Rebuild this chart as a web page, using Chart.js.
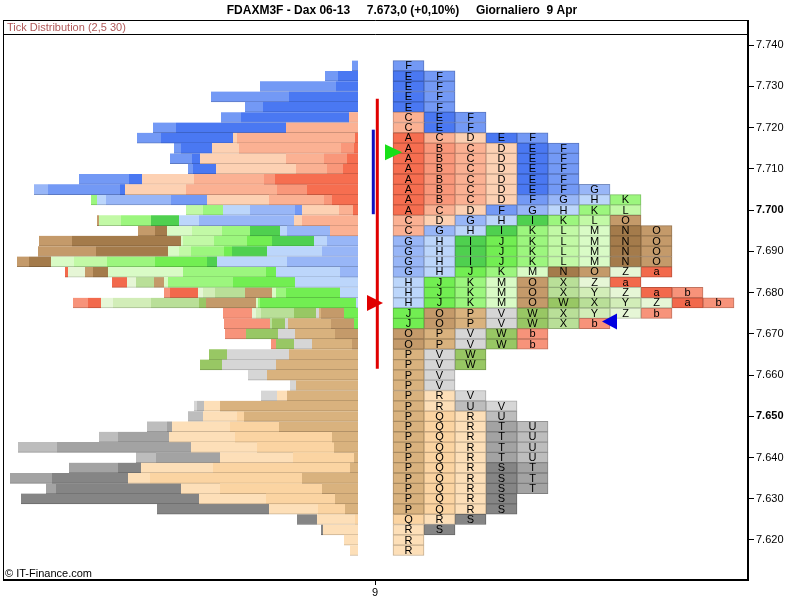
<!DOCTYPE html>
<html><head><meta charset="utf-8">
<script src="https://cdn.jsdelivr.net/npm/chart.js@4.4.1/dist/chart.umd.min.js"></script>
<style>html,body{margin:0;padding:0;background:#fff}</style>
</head><body>
<canvas id="c" width="800" height="600"></canvas>
<script>
// ---- data ----
const prices = [7735, 7732.5, 7730, 7727.5, 7725, 7722.5, 7720, 7717.5, 7715, 7712.5, 7710, 7707.5,
  7705, 7702.5, 7700, 7697.5, 7695, 7692.5, 7690, 7687.5, 7685, 7682.5, 7680, 7677.5,
  7675, 7672.5, 7670, 7667.5, 7665, 7662.5, 7660, 7657.5, 7655, 7652.5, 7650, 7647.5,
  7645, 7642.5, 7640, 7637.5, 7635, 7632.5, 7630, 7627.5, 7625, 7622.5, 7620, 7617.5];

const tpoRows = ['F','EF','EF','EF','EF','CEF','CEF','ACDEF','ABCDEF','ABCDEF','ABCDEF','ABCDEF',
  'ABCDEFG','ABCDFGHK','ACDFGHKL','CDGHIKLO','CGHIKLMNO','GHIJKLMNO','GHIJKLMNO','GHIJKLMNO',
  'GHJKMNOZa','HJKMOXZa','HJKMOXYZab','HJKMOWXYZab','JOPVWXYZb','JOPVWXb','OPVWb','OPVWb',
  'PVW','PVW','PV','PV','PRV','PRUV','PQRU','PQRTU','PQRTU','PQRTU','PQRTU',
  'PQRST','PQRST','PQRST','PQRS','PQRS','QRS','RS','R','R'];

const volRows = [[6],[20,13],[22,76],[69,78],[95,18],[9,108,20],[72,110,23],[3,118,4,72,24],
  [4,13,102,27,31,7],[11,23,38,86,8,22],[15,16,31,80,23,5],[83,11,70,52,13,50],
  [51,30,91,61,5,72,14],[26,8,55,62,36,65,9,6],[5,14,37,7,45,27,20,17],[56,8,95,20,28,30,22,2],
  [28,43,7,30,28,30,25,12,17],[31,13,42,25,33,31,2,109,33],[36,55,35,8,33,12,11,72,58],
  [71,70,10,52,48,33,23,22,12],[18,64,10,83,75,15,8,17,3],[63,62,65,4,10,18,9,15],
  [18,54,10,4,27,30,12,5,28,6],[2,96,2,2,50,7,48,38,12,13,15],[14,23,2,3,22,33,5,4,29],
  [4,23,43,3,13,2,46],[23,40,17,32,21],[6,40,18,18,5],[69,62,18],[82,54,22],[91,19],[62,6],
  [71,10,16],[138,16,7,3],[114,7,34,15],[79,49,58,5,20],[26,97,66,51,19],[24,77,66,134,39],
  [4,61,73,64,20],[8,137,72,23,49],[56,152,22,76,42],[36,102,39,125,10],[23,69,67,178],
  [13,27,49,112],[3,38,20],[35,2],[14],[8]];

const letterOrder = ['A','B','C','D','E','F','G','H','I','J','K','L','M','N','O','P','Q','R','S','T','U','V','W','X','Y','Z','a','b'];
const letterColors = {
  A:'#f66e50', B:'#f9977a', C:'#fbb193', D:'#fdd1b3',
  E:'#4a78f2', F:'#7399f5', G:'#98b6f7', H:'#bcd6fb',
  I:'#4fd04f', J:'#72ee52', K:'#9cf67e', L:'#c2f9a6', M:'#d9fbc6',
  N:'#a47b4b', O:'#c49a6a', P:'#d9b27e', Q:'#fbd4a2', R:'#fddfb8',
  S:'#858585', T:'#a3a3a3', U:'#bdbdbd', V:'#d6d6d6',
  W:'#98c764', X:'#b9df98', Y:'#d2edb8', Z:'#e6f6d6', a:'#f2694c', b:'#f7937a'
};
const yTicks = [7620, 7630, 7640, 7650, 7660, 7670, 7680, 7690, 7700, 7710, 7720, 7730, 7740];
const boldTicks = [7650, 7700];
const valueArea = [7661.5, 7727];
const initialBalance = [7699, 7719.5];
const openPrice = 7714;
const closePrice = 7673;
const pocPrice = 7677.5;
const sessionLabel = '9';
const titleText = 'FDAXM3F - Dax 06-13     7.673,0 (+0,10%)     Giornaliero  9 Apr';
const subTitleText = 'Tick Distribution (2,5 30)';

// ---- layout constants (styles) ----
const TPO_GAP = 35, TPO_CELL = 31;
const FONT = '"Liberation Sans", Arial, sans-serif';
Chart.defaults.font.family = FONT;

function shade(hex, f) {
  const n = parseInt(hex.slice(1), 16);
  const r = (n >> 16) & 255, g = (n >> 8) & 255, b = n & 255;
  return 'rgb(' + Math.round(r * f) + ',' + Math.round(g * f) + ',' + Math.round(b * f) + ')';
}

const volSets = letterOrder.map(L => ({
  label: 'vol ' + L, stack: 's',
  data: prices.map((p, i) => {
    const k = tpoRows[i].indexOf(L);
    return k < 0 ? null : { x: -volRows[i][k], y: p };
  }).filter(Boolean),
  backgroundColor: letterColors[L],
  borderColor: shade(letterColors[L], 0.8),
  borderWidth: { top: 0, left: 0, right: 0, bottom: 1 },
  borderSkipped: false,
  barPercentage: 1, categoryPercentage: 1
}));

const offsetSet = {
  label: 'gap', stack: 's',
  data: prices.map(p => ({ x: TPO_GAP, y: p })),
  backgroundColor: 'rgba(0,0,0,0)', borderWidth: 0,
  barPercentage: 1, categoryPercentage: 1
};

const maxCols = Math.max(...tpoRows.map(r => r.length));
const colSets = [];
for (let j = 0; j < maxCols; j++) {
  colSets.push({
    label: 'col' + j, stack: 's',
    data: prices.map((p, i) => tpoRows[i].length > j ? { x: TPO_CELL, y: p, letter: tpoRows[i][j] } : null).filter(Boolean),
    backgroundColor: c => c.raw ? letterColors[c.raw.letter] : '#fff',
    borderColor: c => c.raw ? shade(letterColors[c.raw.letter], 0.78) : '#fff',
    borderWidth: 1, borderSkipped: false,
    barPercentage: 1, categoryPercentage: 1
  });
}

function tri(ctx, pts, color) {
  ctx.beginPath();
  ctx.moveTo(pts[0][0], pts[0][1]);
  ctx.lineTo(pts[1][0], pts[1][1]);
  ctx.lineTo(pts[2][0], pts[2][1]);
  ctx.closePath();
  ctx.fillStyle = color;
  ctx.fill();
}

const decor = {
  id: 'decor',
  beforeDraw(chart) {
    const ctx = chart.ctx;
    ctx.save(); ctx.fillStyle = '#fff'; ctx.fillRect(0, 0, chart.width, chart.height); ctx.restore();
  },
  afterDatasetsDraw(chart) {
    const ctx = chart.ctx, xs = chart.scales.x, ys = chart.scales.y;
    ctx.save();
    ctx.fillStyle = '#000';
    ctx.font = '11px ' + FONT;
    ctx.textAlign = 'center';
    ctx.textBaseline = 'middle';
    const first = volSets.length + 1;
    colSets.forEach((ds, j) => {
      const meta = chart.getDatasetMeta(first + j);
      meta.data.forEach((el, k) => {
        ctx.fillText(ds.data[k].letter, (el.x + el.base) / 2, el.y + 0.5);
      });
    });
    ctx.lineWidth = 3;
    ctx.strokeStyle = '#e00000';
    ctx.beginPath();
    ctx.moveTo(xs.getPixelForValue(19.3), ys.getPixelForValue(valueArea[1]));
    ctx.lineTo(xs.getPixelForValue(19.3), ys.getPixelForValue(valueArea[0]));
    ctx.stroke();
    ctx.strokeStyle = '#1010c0';
    ctx.beginPath();
    ctx.moveTo(xs.getPixelForValue(15.3), ys.getPixelForValue(initialBalance[1]));
    ctx.lineTo(xs.getPixelForValue(15.3), ys.getPixelForValue(initialBalance[0]));
    ctx.stroke();
    let y = ys.getPixelForValue(pocPrice);
    tri(ctx, [[xs.getPixelForValue(9), y - 8], [xs.getPixelForValue(25), y], [xs.getPixelForValue(9), y + 8]], '#e00000');
    y = ys.getPixelForValue(openPrice);
    tri(ctx, [[xs.getPixelForValue(27), y - 8], [xs.getPixelForValue(44), y], [xs.getPixelForValue(27), y + 8]], '#18e018');
    let ci = 0, best = 1e9;
    prices.forEach((p, i) => { const d = Math.abs(p - closePrice); if (d < best) { best = d; ci = i; } });
    const rowEnd = TPO_GAP + tpoRows[ci].length * TPO_CELL;
    y = ys.getPixelForValue(closePrice);
    tri(ctx, [[xs.getPixelForValue(rowEnd + 7), y - 8], [xs.getPixelForValue(rowEnd - 8), y], [xs.getPixelForValue(rowEnd + 7), y + 8]], '#0000e0');
    ctx.restore();
  },
  afterDraw(chart) {
    const ctx = chart.ctx, a = chart.chartArea;
    ctx.save();
    ctx.strokeStyle = '#000';
    ctx.lineWidth = 1;
    ctx.beginPath();
    ctx.moveTo(3.5, a.top + 0.5 - 14); ctx.lineTo(a.right, a.top + 0.5 - 14);
    ctx.moveTo(3.5, a.top + 0.5); ctx.lineTo(a.right, a.top + 0.5);
    ctx.moveTo(3.5, a.top - 14); ctx.lineTo(3.5, a.bottom);
    ctx.stroke();
    ctx.lineWidth = 2;
    ctx.beginPath();
    ctx.moveTo(a.right, a.top - 14); ctx.lineTo(a.right, a.top + 1);
    ctx.stroke();
    ctx.fillStyle = '#b05858';
    ctx.font = '11px ' + FONT;
    ctx.textBaseline = 'middle';
    ctx.textAlign = 'left';
    ctx.fillText(subTitleText, 7, a.top - 6.5);
    ctx.fillStyle = '#000';
    ctx.fillText('\u00A9 IT-Finance.com', 5, a.bottom - 6);
    ctx.restore();
  }
};

new Chart(document.getElementById('c'), {
  type: 'bar',
  data: { datasets: [...volSets, offsetSet, ...colSets] },
  options: {
    indexAxis: 'y',
    responsive: false,
    animation: false,
    devicePixelRatio: 1,
    layout: { padding: { left: 4, right: 0, top: 0, bottom: 0 } },
    plugins: {
      legend: { display: false },
      tooltip: { enabled: false },
      title: {
        display: true, text: titleText, color: '#000',
        font: { size: 12, weight: 'bold', lineHeight: 1.2 },
        padding: { top: 3, bottom: 16.6 }
      }
    },
    scales: {
      x: {
        type: 'linear', stacked: true, min: -354, max: 390, offset: false,
        afterFit: s => { s.height = 20; },
        afterBuildTicks: s => { s.ticks = [{ value: 17 }]; },
        ticks: { callback: () => sessionLabel, color: '#000', font: { size: 11 }, padding: 1, maxRotation: 0 },
        grid: { offset: false, drawOnChartArea: false, drawTicks: true, tickLength: 5, color: '#000' },
        border: { display: true, color: '#000', width: 2 }
      },
      y: {
        type: 'linear', position: 'right', min: 7610.3, max: 7742.7, offset: false,
        afterFit: s => { s.width = 52; },
        afterBuildTicks: s => { s.ticks = yTicks.map(v => ({ value: v })); },
        ticks: {
          callback: v => (v / 1000).toFixed(3),
          color: '#000', padding: 2,
          font: c => ({ size: 11, weight: (c.tick && boldTicks.includes(c.tick.value)) ? 'bold' : 'normal' })
        },
        grid: { offset: false, drawOnChartArea: false, drawTicks: true, tickLength: 6, color: '#000' },
        border: { display: true, color: '#000', width: 2 }
      }
    }
  },
  plugins: [decor]
});
</script>
</body></html>
